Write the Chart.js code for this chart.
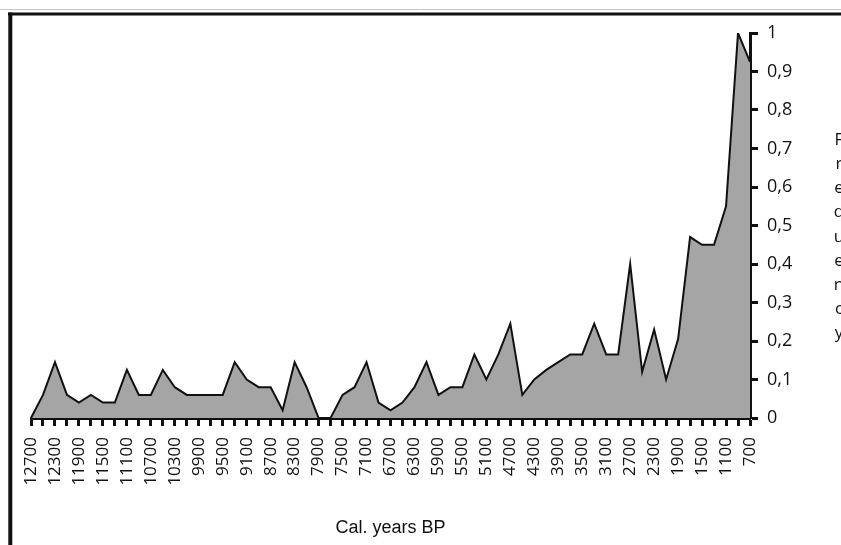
<!DOCTYPE html>
<html>
<head>
<meta charset="utf-8">
<script src="https://cdn.jsdelivr.net/npm/chart.js@4/dist/chart.umd.min.js"></script>
<style>
  html, body { margin: 0; padding: 0; background: #fff; }
  canvas { display: block; }
</style>
</head>
<body>
<canvas id="chart" width="841" height="545"></canvas>
<script>
// Calibrated years BP, every 200 years from 12700 to 700
const years = [12700, 12500, 12300, 12100, 11900, 11700, 11500, 11300, 11100, 10900,
  10700, 10500, 10300, 10100, 9900, 9700, 9500, 9300, 9100, 8900,
  8700, 8500, 8300, 8100, 7900, 7700, 7500, 7300, 7100, 6900,
  6700, 6500, 6300, 6100, 5900, 5700, 5500, 5300, 5100, 4900,
  4700, 4500, 4300, 4100, 3900, 3700, 3500, 3300, 3100, 2900,
  2700, 2500, 2300, 2100, 1900, 1700, 1500, 1300, 1100, 900, 700];

// Relative frequency per 200-year bin
const frequency = [0, 0.06, 0.145, 0.06, 0.04, 0.06, 0.04, 0.04, 0.125, 0.06,
  0.06, 0.125, 0.08, 0.06, 0.06, 0.06, 0.06, 0.145, 0.1, 0.08,
  0.08, 0.02, 0.145, 0.08, 0, 0, 0.06, 0.08, 0.145, 0.04,
  0.02, 0.04, 0.08, 0.145, 0.06, 0.08, 0.08, 0.165, 0.1, 0.165,
  0.245, 0.06, 0.1, 0.125, 0.145, 0.165, 0.165, 0.245, 0.165, 0.165,
  0.4, 0.12, 0.23, 0.1, 0.205, 0.47, 0.45, 0.45, 0.55, 1.0, 0.925];

// Only every second year is labelled on the time axis
const labelledYears = years.filter((y, i) => i % 2 === 0);

const xTitle = 'Cal. years BP';
const sideTitle = ['F', 'r', 'e', 'q', 'u', 'e', 'n', 'c', 'y'];

// Frame lines and the stacked side title
const decor = {
  id: 'decor',
  afterDraw(chart) {
    const ctx = chart.ctx;
    ctx.save();
    ctx.strokeStyle = '#c4c4c4';
    ctx.lineWidth = 1;
    ctx.beginPath();
    ctx.moveTo(0, 9.5); ctx.lineTo(841, 9.5);
    ctx.stroke();
    ctx.strokeStyle = '#111';
    ctx.lineWidth = 3;
    ctx.beginPath();
    ctx.moveTo(8, 14); ctx.lineTo(841, 14);
    ctx.stroke();
    ctx.lineWidth = 4;
    ctx.beginPath();
    ctx.moveTo(10.3, 12.5); ctx.lineTo(10.3, 545);
    ctx.stroke();

    ctx.fillStyle = '#111';
    ctx.font = '17px "Open Sans"';
    ctx.textAlign = 'center';
    ctx.textBaseline = 'middle';
    sideTitle.forEach((ch, i) => ctx.fillText(ch, 839, 140 + i * 24.2));
    ctx.restore();
  }
};

new Chart(document.getElementById('chart'), {
  type: 'line',
  data: {
    labels: years,
    datasets: [{
      data: frequency,
      fill: 'origin',
      backgroundColor: '#a5a5a5',
      borderColor: '#111',
      borderWidth: 2,
      pointRadius: 0,
      tension: 0
    }]
  },
  options: {
    responsive: false,
    animation: false,
    devicePixelRatio: 1,
    layout: { padding: { left: 31, top: 33, right: 0, bottom: 0 } },
    plugins: { legend: { display: false }, tooltip: { enabled: false } },
    scales: {
      x: {
        type: 'category',
        offset: false,
        afterFit(scale) { scale.height = 127; },
        border: { display: true, color: '#111', width: 3 },
        grid: {
          display: true,
          drawOnChartArea: false,
          drawTicks: true,
          tickLength: 8,
          tickWidth: 3,
          tickColor: '#111',
          offset: false
        },
        ticks: {
          autoSkip: false,
          maxRotation: 90,
          minRotation: 90,
          padding: 11,
          color: '#111',
          font: { family: '"Open Sans"', size: 17 },
          callback(value, index) {
            const y = years[index];
            return labelledYears.includes(y) ? String(y) : '';
          }
        },
        title: {
          display: true,
          text: xTitle,
          color: '#111',
          font: { family: '"Liberation Sans", Arial', size: 18 },
          padding: { top: 0, bottom: 6 }
        }
      },
      y: {
        position: 'right',
        min: 0,
        max: 1,
        afterFit(scale) { scale.width = 91; },
        border: { display: true, color: '#111', width: 3 },
        grid: {
          display: true,
          drawOnChartArea: false,
          drawTicks: true,
          tickLength: 8,
          tickWidth: 3,
          tickColor: '#111'
        },
        ticks: {
          stepSize: 0.1,
          padding: 9,
          color: '#111',
          font: { family: '"Open Sans"', size: 18 },
          callback(value) {
            const v = Math.round(value * 10) / 10;
            return String(v).replace('.', ',');
          }
        }
      }
    }
  },
  plugins: [decor]
});
</script>
</body>
</html>
